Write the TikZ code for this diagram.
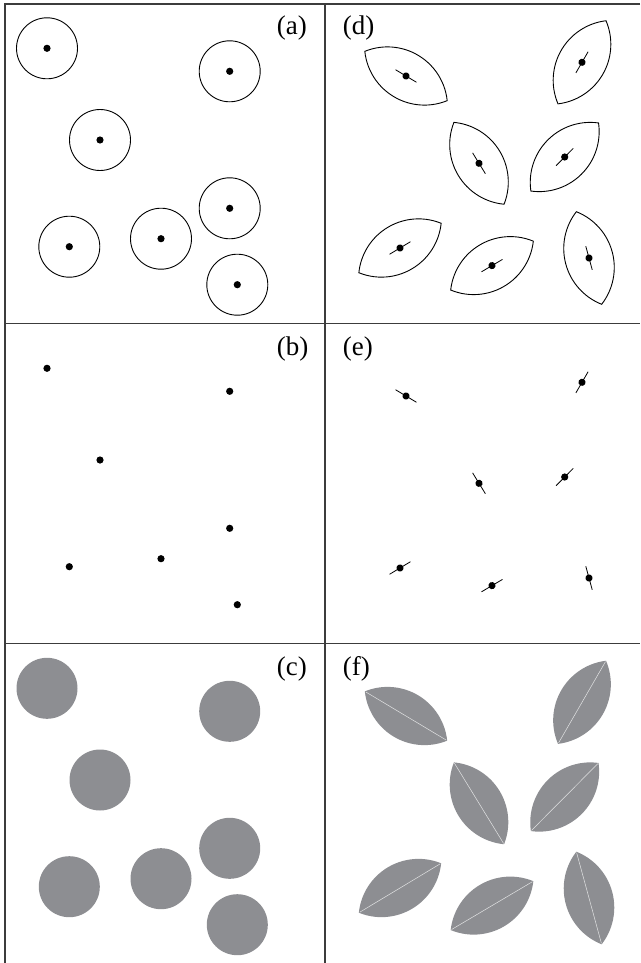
\documentclass[tikz,border=0pt]{standalone}
\usepackage{fontspec}
\setmainfont{Liberation Serif}
\definecolor{fillgray}{RGB}{141,142,146}
\definecolor{framegray}{RGB}{60,60,60}
\newcommand\myleaf[4]{%
  \begin{scope}[shift={(#1,#2)},rotate=#3]
    \path[#4] (-48,0) arc[start angle=143.13,end angle=36.87,radius=60]
      arc[start angle=-36.87,end angle=-143.13,radius=60] -- cycle;
  \end{scope}}
\newcommand\myaxis[3]{%
  \begin{scope}[shift={(#1,#2)},rotate=#3]
    \draw[axisline] (-12.2,0) -- (12.2,0);
    \fill (0,0) circle[radius=3.6];
  \end{scope}}
\newcommand\myseam[3]{%
  \begin{scope}[shift={(#1,#2)},rotate=#3]
    \draw[seamline] (-47,0) -- (47,0);
  \end{scope}}
\begin{document}
\begin{tikzpicture}[x=1pt,y=-1pt,
  frame/.style={draw=framegray,line width=1.4},
  ring/.style={draw=black,line width=0.9},
  disc/.style={fill=fillgray},
  dotc/.style={fill=black},
  lensline/.style={draw=black,line width=0.9,fill=white},
  lensfill/.style={fill=fillgray},
  axisline/.style={draw=black,line width=0.8},
  seamline/.style={draw=white!75!fillgray,line width=0.5},
  lab/.style={inner sep=0pt,anchor=base west,font=\fontsize{27}{27}\selectfont}]
\useasboundingbox (0,0) rectangle (640,963);
% frame
\draw[frame] (640,4) -- (5,4) -- (5,963);
\draw[frame] (325,4) -- (325,963);
\draw[frame] (5,323.5) -- (640,323.5);
\draw[frame] (5,643.5) -- (640,643.5);
% left column: circles, dots, discs
\foreach \cx/\cy in {47/48.3, 229.7/71.3, 100/140, 69.3/246.7, 161/238.7, 229.7/208.3, 237.3/284.7}{
  \draw[ring] (\cx,\cy) circle[radius=30.5];
  \fill[dotc] (\cx,\cy) circle[radius=3.6];
  \fill[dotc] (\cx,\cy+320) circle[radius=3.6];
  \fill[disc] (\cx,\cy+640) circle[radius=30.5];
}
% right column: lenses
\foreach \cx/\cy/\ang in {406/76/30.9, 582/62.3/-60, 479/163.3/58.5, 564.7/157/-45.2, 400/248/-31, 492/265.6/-30.6, 589/258/74.7}{
  \myleaf{\cx}{\cy}{-\ang}{lensline}
  \myaxis{\cx}{\cy}{-\ang}
  \myaxis{\cx}{\cy+320}{-\ang}
  \myleaf{\cx}{\cy+640}{-\ang}{lensfill}
  \myseam{\cx}{\cy+640}{-\ang}
}
% labels
\node[lab] (la) at (276.7,35) {(a)};
\node[lab] (lb) at (276.7,355) {(b)};
\node[lab] (lc) at (276.7,675) {(c)};
\node[lab] (ld) at (342.7,35) {(d)};
\node[lab] (le) at (342.7,355) {(e)};
\node[lab] (lf) at (342.7,675) {(f)};
\end{tikzpicture}
\end{document}
